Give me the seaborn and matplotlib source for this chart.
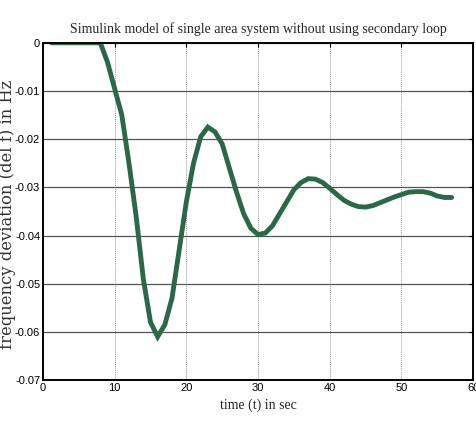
import numpy as np
import pandas as pd
import matplotlib
matplotlib.use("Agg")
import matplotlib.pyplot as plt
import seaborn as sns

# Values
time_s = [1.2, 8, 9, 10, 11, 12, 13, 14, 15, 16, 17, 18, 19, 20, 21, 22, 23, 24,
          25, 26, 27, 28, 29, 30, 31, 32, 33, 34, 35, 36, 37, 38, 39, 40, 41, 42,
          43, 44, 45, 46, 47, 48, 49, 50, 51, 52, 53, 54, 55, 56, 57]
del_f = [0.0, 0.0, -0.004, -0.0095, -0.015, -0.025, -0.036, -0.049, -0.058, -0.061,
         -0.0585, -0.053, -0.043, -0.033, -0.025, -0.0195, -0.0175, -0.0185, -0.021,
         -0.026, -0.031, -0.0355, -0.0385, -0.0398, -0.0395, -0.038, -0.0355, -0.033,
         -0.0305, -0.029, -0.0282, -0.0283, -0.029, -0.0302, -0.0315, -0.0327, -0.0335,
         -0.034, -0.0341, -0.0338, -0.0332, -0.0326, -0.032, -0.0315, -0.031, -0.0309,
         -0.0309, -0.0312, -0.0318, -0.0321, -0.0321]
x_ticks = [0, 10, 20, 30, 40, 50, 60]
y_ticks = [0, -0.01, -0.02, -0.03, -0.04, -0.05, -0.06, -0.07]
y_tick_labels = ["0", "-0.01", "-0.02", "-0.03", "-0.04", "-0.05", "-0.06", "-0.07"]

df = pd.DataFrame({"t": time_s, "df": del_f})

sns.set_style("white")
plt.rcParams['font.family'] = ['Liberation Sans Narrow', 'Liberation Sans', 'DejaVu Sans']

fig = plt.figure(figsize=(4.77, 4.28), dpi=100)
ax = fig.add_axes([0.090, 0.112, 0.902, 0.788])

sns.lineplot(data=df, x="t", y="df", ax=ax, color="#2a6849", linewidth=3.5,
             solid_joinstyle="miter")

ax.set_xlim(0, 60)
ax.set_ylim(-0.07, 0)
ax.set_xticks(x_ticks)
ax.set_yticks(y_ticks)
ax.set_yticklabels(y_tick_labels)
ax.tick_params(labelsize=8, direction="in", length=3, colors="black",
               top=True, right=True, pad=2)

# grid: dark horizontal, light dotted vertical
ax.yaxis.grid(True, color="#555555", linewidth=0.9, linestyle="-")
ax.xaxis.grid(True, color="#999999", linewidth=0.7, linestyle=(0, (1, 1)))
ax.set_axisbelow(True)
for s in ax.spines.values():
    s.set_color("black")
    s.set_linewidth(1.4)

ax.set_title("Simulink model of single area system without using secondary loop",
             fontsize=10, family=["Liberation Serif"], pad=7)
ax.set_xlabel("time (t) in sec", fontsize=10, family=["Liberation Serif"], labelpad=4)
ax.set_ylabel("frequency deviation (del f) in Hz", fontsize=11.8,
              family=["DejaVu Serif"], color="#333333")
ax.yaxis.set_label_coords(-0.062, 0.49)

fig.savefig("out.png", dpi=100)
